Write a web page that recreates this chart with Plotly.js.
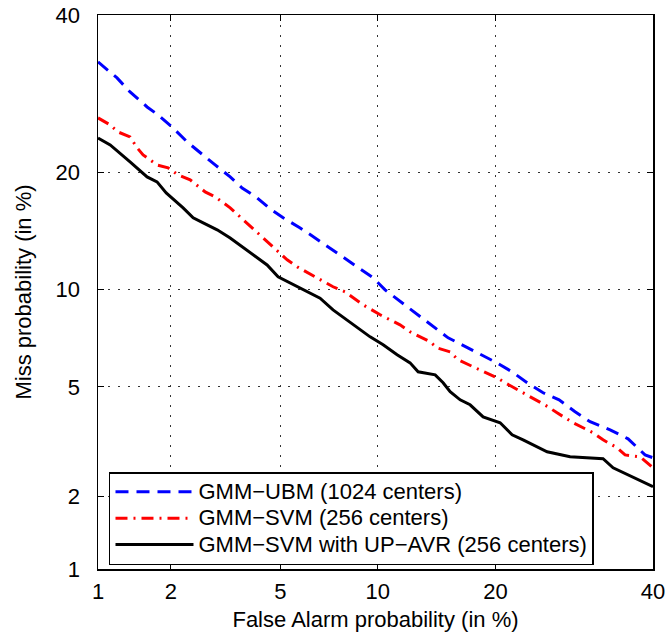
<!DOCTYPE html>
<html>
<head>
<meta charset="utf-8">
<script src="https://cdn.plot.ly/plotly-3.0.1.min.js"></script>
<style>html,body{margin:0;padding:0;background:#fff;}#chart{width:666px;height:632px;}</style>
</head>
<body>
<div id="chart"></div>
<script>
// Axis ticks (percent)
const tickValuesPct = [1, 2, 5, 10, 20, 40];
const tickLabels = ['1', '2', '5', '10', '20', '40'];

// Series names
const seriesNames = ['GMM\u2212UBM (1024 centers)', 'GMM\u2212SVM (256 centers)', 'GMM\u2212SVM with UP\u2212AVR (256 centers)'];

// GMM-UBM (1024 centers): false alarm % / miss %
const ubmFA = [1.0, 1.206, 1.367, 1.606, 1.777, 2.018, 2.310, 2.588, 2.946, 3.343, 3.689, 4.166, 4.616, 5.105, 5.807, 6.485, 7.123, 7.915, 8.772, 9.70, 10.49, 11.69, 12.91, 14.13, 15.42, 16.69, 18.23, 19.96, 21.78, 23.47, 25.34, 27.29, 29.31, 31.27, 33.96, 36.45, 38.86, 40.0];
const ubmMiss = [33.4, 31.25, 29.41, 27.51, 26.53, 25.08, 23.33, 22.08, 20.77, 19.51, 18.39, 17.42, 16.38, 15.57, 14.68, 13.84, 13.12, 12.33, 11.55, 10.81, 9.997, 9.17, 8.454, 7.78, 7.196, 6.844, 6.459, 6.04, 5.608, 5.16, 4.776, 4.52, 4.11, 3.792, 3.549, 3.295, 2.876, 2.806];

// GMM-SVM (256 centers)
const svmFA = [1.000, 1.128, 1.217, 1.367, 1.463, 1.547, 1.761, 1.949, 2.134, 2.374, 2.705, 2.946, 3.343, 3.936, 4.616, 5.264, 5.72, 6.579, 7.375, 8.024, 9.077, 10.16, 11.54, 12.29, 13.88, 14.46, 15.60, 16.32, 17.94, 20.17, 21.02, 23.47, 25.94, 27.04, 29.05, 31.67, 33.00, 34.92, 36.03, 38.15, 40.0];
const svmMiss = [26.16, 25.31, 24.48, 23.90, 22.64, 21.86, 20.77, 20.46, 19.71, 19.21, 18.0, 17.52, 16.48, 14.86, 13.27, 12.11, 11.55, 10.81, 10.20, 9.864, 9.047, 8.454, 7.888, 7.509, 6.995, 6.69, 6.505, 6.132, 5.781, 5.359, 5.16, 4.703, 4.278, 4.075, 3.761, 3.464, 3.266, 3.056, 2.876, 2.829, 2.572];

// GMM-SVM with UP-AVR (256 centers)
const avrFA = [1.0, 1.128, 1.367, 1.606, 1.761, 1.915, 2.230, 2.437, 2.659, 2.997, 3.343, 3.627, 4.030, 4.506, 4.909, 5.936, 6.721, 7.375, 8.135, 9.511, 10.36, 11.33, 12.29, 12.91, 14.30, 14.98, 15.60, 16.51, 17.45, 18.23, 18.73, 20.49, 21.78, 23.01, 25.82, 28.67, 33.00, 34.37, 36.31, 38.58, 40.0];
const avrMiss = [23.78, 22.98, 21.09, 19.51, 19.0, 17.91, 16.48, 15.57, 15.12, 14.52, 13.84, 13.27, 12.48, 11.73, 10.88, 9.997, 9.456, 8.744, 8.164, 7.247, 6.844, 6.365, 5.997, 5.608, 5.48, 5.16, 4.814, 4.52, 4.346, 4.11, 3.943, 3.761, 3.407, 3.266, 2.954, 2.829, 2.782, 2.572, 2.422, 2.274, 2.177];

// Normal deviate (probit) scale used by DET plots
function probit(pct) {
  const p = pct / 100;
  const a = [-3.969683028665376e+01, 2.209460984245205e+02, -2.759285104469687e+02, 1.383577518672690e+02, -3.066479806614716e+01, 2.506628277459239e+00];
  const b = [-5.447609879822406e+01, 1.615858368580409e+02, -1.556989798598866e+02, 6.680131188771972e+01, -1.328068155288572e+01];
  const c = [-7.784894002430293e-03, -3.223964580411365e-01, -2.400758277161838e+00, -2.549732539343734e+00, 4.374664141464968e+00, 2.938163982698783e+00];
  const d = [7.784695709041462e-03, 3.224671290700398e-01, 2.445134137142996e+00, 3.754408661907416e+00];
  const pl = 0.02425;
  let q, r;
  if (p < pl) {
    q = Math.sqrt(-2 * Math.log(p));
    return (((((c[0]*q+c[1])*q+c[2])*q+c[3])*q+c[4])*q+c[5]) / ((((d[0]*q+d[1])*q+d[2])*q+d[3])*q+1);
  } else if (p <= 1 - pl) {
    q = p - 0.5; r = q*q;
    return (((((a[0]*r+a[1])*r+a[2])*r+a[3])*r+a[4])*r+a[5])*q / (((((b[0]*r+b[1])*r+b[2])*r+b[3])*r+b[4])*r+1);
  } else {
    q = Math.sqrt(-2 * Math.log(1 - p));
    return -(((((c[0]*q+c[1])*q+c[2])*q+c[3])*q+c[4])*q+c[5]) / ((((d[0]*q+d[1])*q+d[2])*q+d[3])*q+1);
  }
}

const tickPos = tickValuesPct.map(probit);
const FONT = 'Liberation Sans, Arial, Helvetica, sans-serif';
const wrap = s => '<span style="font-size:22px">' + s + '</span>';

const traces = [
  {x: ubmFA.map(probit), y: ubmMiss.map(probit), name: wrap(seriesNames[0]), mode: 'lines',
   line: {color: '#0000ff', width: 3, dash: '13px,8px'}},
  {x: svmFA.map(probit), y: svmMiss.map(probit), name: wrap(seriesNames[1]), mode: 'lines',
   line: {color: '#ff0000', width: 3, dash: '12px,6px,2px,6px'}},
  {x: avrFA.map(probit), y: avrMiss.map(probit), name: wrap(seriesNames[2]), mode: 'lines',
   line: {color: '#000000', width: 3}}
];

const axisCommon = {
  tickmode: 'array',
  tickvals: tickPos,
  ticktext: tickLabels,
  showgrid: true,
  gridcolor: '#333333',
  gridwidth: 1,
  griddash: '2px,8px',
  zeroline: false,
  showline: true,
  linecolor: '#000000',
  linewidth: 1.5,
  mirror: 'ticks',
  ticks: 'inside',
  ticklen: 6,
  tickwidth: 1,
  tickcolor: '#000000',
  tickfont: {family: FONT, size: 22, color: '#000000'},
  automargin: false
};

const layout = {
  width: 666, height: 632,
  margin: {l: 98, r: 13, t: 15, b: 63},
  paper_bgcolor: '#ffffff', plot_bgcolor: '#ffffff',
  showlegend: true,
  xaxis: Object.assign({}, axisCommon, {
    range: [probit(1), probit(40)],
    ticklabelstandoff: 2,
    title: {text: 'False Alarm probability (in %)', font: {family: FONT, size: 22, color: '#000'}, standoff: 10}
  }),
  yaxis: Object.assign({}, axisCommon, {
    range: [probit(1), probit(40)],
    ticklabelstandoff: 12,
    title: {text: 'Miss probability (in %)', font: {family: FONT, size: 22, color: '#000'}, standoff: 18}
  }),
  legend: {
    x: 0.0198, y: 0.175, xanchor: 'left', yanchor: 'top',
    bgcolor: '#ffffff', bordercolor: '#000000', borderwidth: 1.5,
    font: {family: FONT, size: 18, color: '#000'},
    itemwidth: 78, tracegroupgap: 0
  }
};

Plotly.newPlot('chart', traces, layout, {staticPlot: true, displayModeBar: false});
</script>
</body>
</html>
